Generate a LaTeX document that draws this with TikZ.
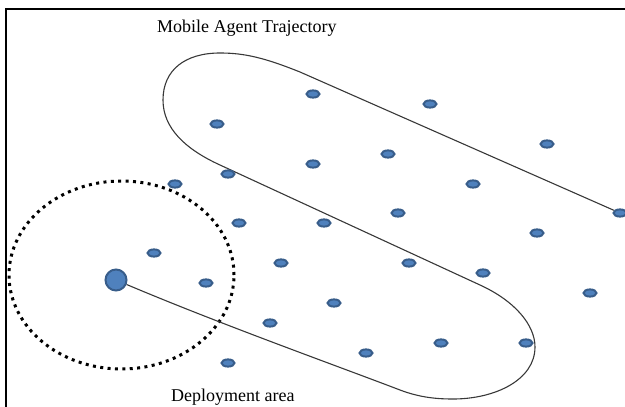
\documentclass[tikz,border=0pt]{standalone}
\usepackage{fontspec}
\setmainfont{Liberation Serif}
\usetikzlibrary{shapes.geometric}
\definecolor{dotfill}{HTML}{4F81BD}
\definecolor{dotline}{HTML}{385D8A}
\pgfdeclarelayer{bg}
\pgfsetlayers{bg,main}
\begin{document}
\begin{tikzpicture}[x=1pt,y=-1pt,
 sensor/.style={ellipse,fill=dotfill,draw=dotline,line width=2pt,minimum width=13pt,minimum height=7.2pt,inner sep=0pt},
 sink/.style={circle,fill=dotfill,draw=dotline,line width=2pt,minimum size=21pt,inner sep=0pt},
 area/.style={ellipse,draw=black,line width=3pt,dash pattern=on 3pt off 4.4pt,minimum width=225pt,minimum height=188pt,inner sep=0pt},
 traj/.style={draw=black!78,line width=1.1pt},
 lbl/.style={font=\fontsize{18}{20}\selectfont,inner sep=0pt,anchor=base west}]
\useasboundingbox (0,0) rectangle (625,407);
\clip (0,0) rectangle (625,407);
\draw[line width=1.7pt] (5.8,407) -- (5.8,8.8) -- (625,8.8);

\node[sink] (big) at (116,280) {};
\node[sensor] (d1) at (313,94) {};
\node[sensor] (d2) at (430,104) {};
\node[sensor] (d3) at (217,124) {};
\node[sensor] (d4) at (547,144) {};
\node[sensor] (d5) at (388,154) {};
\node[sensor] (d6) at (313,164) {};
\node[sensor] (d7) at (473,184) {};
\node[sensor] (d8) at (228,174) {};
\node[sensor] (d9) at (175,184) {};
\node[sensor] (d10) at (620,213) {};
\node[sensor] (d11) at (398,213) {};
\node[sensor] (d12) at (324,223) {};
\node[sensor] (d13) at (239,223) {};
\node[sensor] (d14) at (537,233) {};
\node[sensor] (d15) at (154,253) {};
\node[sensor] (d16) at (281,263) {};
\node[sensor] (d17) at (409,263) {};
\node[sensor] (d18) at (483,273) {};
\node[sensor] (d19) at (206,283) {};
\node[sensor] (d20) at (590,293) {};
\node[sensor] (d21) at (334,303) {};
\node[sensor] (d22) at (270,323) {};
\node[sensor] (d23) at (441,343) {};
\node[sensor] (d24) at (526,343) {};
\node[sensor] (d25) at (366,353) {};
\node[sensor] (d26) at (228,363) {};

\begin{pgfonlayer}{bg}
\node[area] (dep) at (121.5,275) {};
\draw[traj] (big) .. controls (220,324) and (340,367) .. (400,390)
  .. controls (420,397.6) and (437,399) .. (453,399)
  .. controls (495,399) and (535,380) .. (535,347)
  .. controls (535,325) and (515,301) .. (480,285)
  -- (220,165)
  .. controls (185,149) and (163,128) .. (163,100)
  .. controls (163,70) and (185,53) .. (220,53)
  .. controls (245,53) and (265,58) .. (300,72)
  -- (d10);
\end{pgfonlayer}

\node[lbl] (title) at (157,32.3) {Mobile Agent Trajectory};
\node[lbl] (deplbl) at (171,401) {Deployment area};
\end{tikzpicture}
\end{document}
